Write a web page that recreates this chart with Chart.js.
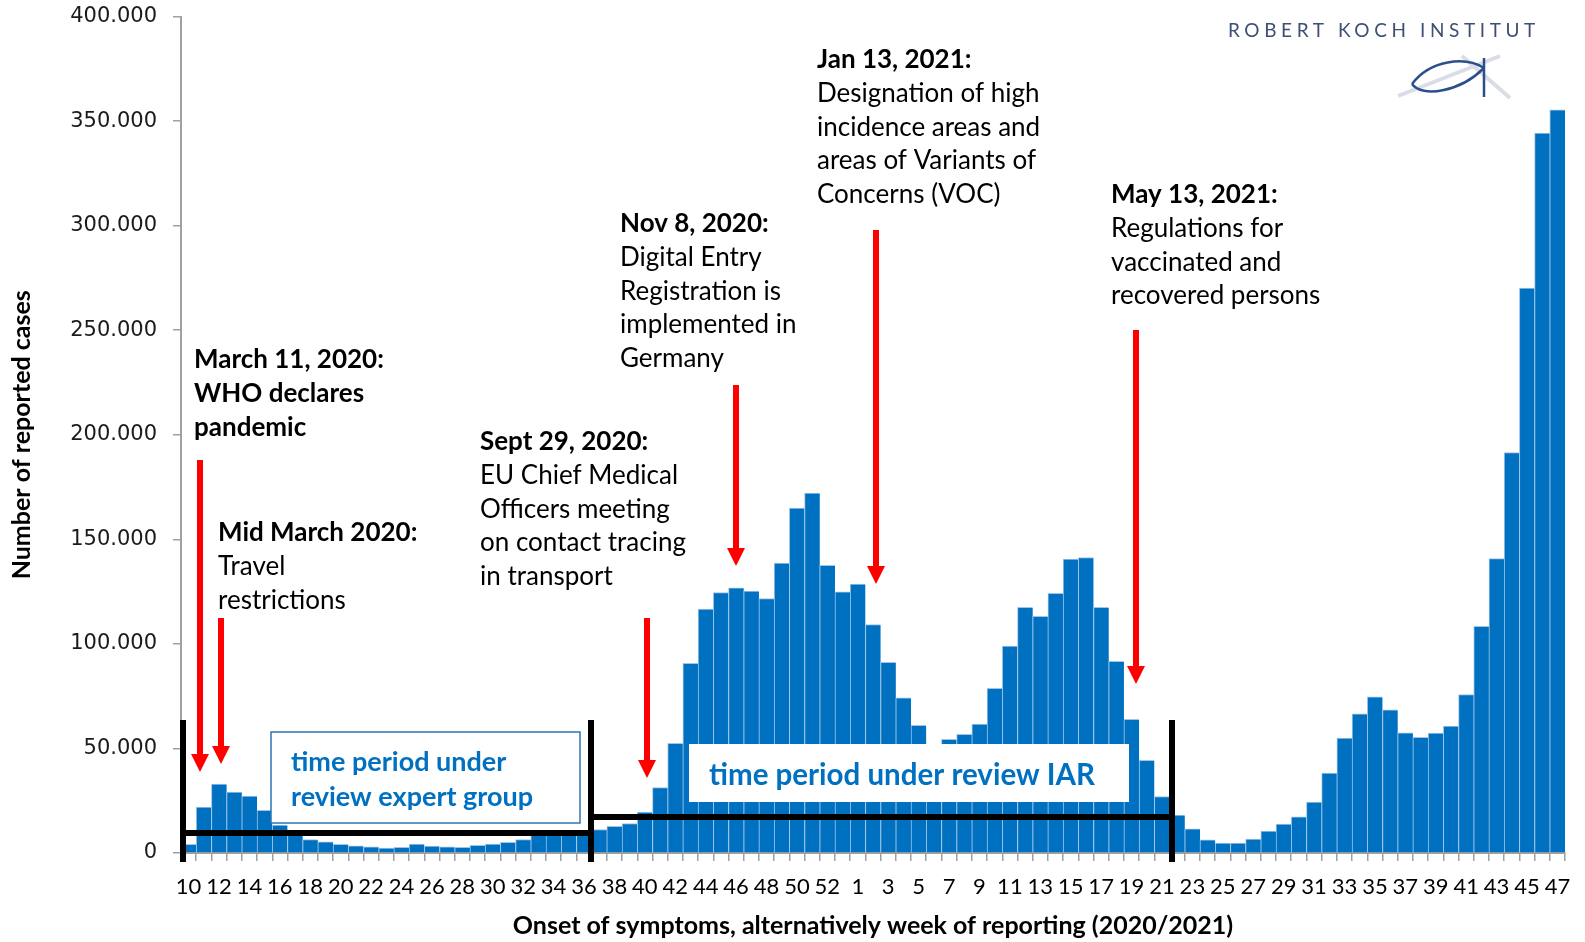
<!DOCTYPE html>
<html>
<head>
<meta charset="utf-8">
<script src="https://cdn.jsdelivr.net/npm/chart.js@4"></script>
<style>
  html, body { margin: 0; padding: 0; background: #fff; }
  canvas { display: block; }
</style>
</head>
<body>
<canvas id="c" width="1585" height="942"></canvas>
<script>
"use strict";

/* weekly case counts, 2020 wk10..53 then 2021 wk1..47 */
const WEEKS_2020 = ["10","11","12","13","14","15","16","17","18","19","20","21","22","23","24","25","26","27","28","29","30","31","32","33","34","35","36","37","38","39","40","41","42","43","44","45","46","47","48","49","50","51","52","53"];
const WEEKS_2021 = ["1","2","3","4","5","6","7","8","9","10","11","12","13","14","15","16","17","18","19","20","21","22","23","24","25","26","27","28","29","30","31","32","33","34","35","36","37","38","39","40","41","42","43","44","45","46","47"];

const CASES_2020 = [4200, 21900, 32900, 29100, 27200, 20400, 13300, 9000, 6400, 5300,
  4200, 3400, 2900, 2300, 2700, 4300, 3300, 2900, 2700, 3700,
  4300, 5100, 6400, 8500, 9000, 9300, 9800, 11200, 12800, 14100,
  19600, 31300, 52400, 90700, 116700, 124500, 126800, 125200, 121700, 138600,
  164900, 172100, 137600, 124900];
const CASES_2021 = [128600, 109200, 91200, 74200, 61000, 50500, 54300, 56700, 61600, 78800,
  99000, 117500, 113200, 124200, 140600, 141300, 117500, 91700, 63900, 44300,
  27000, 18100, 11600, 6300, 4700, 4700, 6700, 10500, 13800, 17300,
  24300, 38200, 54900, 66500, 74700, 68500, 57500, 55300, 57300, 60700,
  75800, 108400, 140800, 191500, 270200, 344300, 355400];

const Y_MAX = 400000;
const Y_STEP = 50000;

const LABELS = WEEKS_2020.concat(WEEKS_2021);
const VALUES = CASES_2020.concat(CASES_2021);

const BLUE = "#0070c0";
const RED = "#ff0000";
const AXIS = "#a0a0a0";
const TXT = "Lato, 'Open Sans', sans-serif";

/* ── annotation layout (pixels) ───────────────────────────────── */
const NOTES = [
  { x: 194, y: 360, lines: [["March 11, 2020:", 1], ["WHO declares", 1], ["pandemic", 1]] },
  { x: 218, y: 533, lines: [["Mid March 2020:", 1], ["Travel", 0], ["restrictions", 0]] },
  { x: 480, y: 442, lines: [["Sept 29, 2020:", 1], ["EU Chief Medical", 0], ["Officers meeting", 0], ["on contact tracing", 0], ["in transport", 0]] },
  { x: 620, y: 224, lines: [["Nov 8, 2020:", 1], ["Digital Entry", 0], ["Registration is", 0], ["implemented in", 0], ["Germany", 0]] },
  { x: 817, y: 60, lines: [["Jan 13, 2021:", 1], ["Designation of high", 0], ["incidence areas and", 0], ["areas of Variants of", 0], ["Concerns (VOC)", 0]] },
  { x: 1111, y: 195, lines: [["May 13, 2021:", 1], ["Regulations for", 0], ["vaccinated and", 0], ["recovered persons", 0]] },
];
const ARROWS = [[200, 460, 772], [221, 618, 764], [647, 618, 778], [736, 385, 566], [876, 230, 584], [1136, 330, 684]];

function fmt(v) { return String(v).replace(/\B(?=(\d{3})+(?!\d))/g, "."); }

function arrow(ctx, x, top, tip) {
  ctx.fillStyle = RED;
  ctx.fillRect(x - 3, top, 6, tip - top - 16);
  ctx.beginPath();
  ctx.moveTo(x - 9, tip - 18);
  ctx.lineTo(x + 9, tip - 18);
  ctx.lineTo(x, tip);
  ctx.closePath();
  ctx.fill();
}

const overlay = {
  id: "overlay",
  afterDatasetsDraw(chart) {
    const ctx = chart.ctx;
    ctx.save();

    // review-period brackets
    ctx.fillStyle = "#000";
    ctx.fillRect(180, 720, 6, 142);
    ctx.fillRect(588, 720, 6, 142);
    ctx.fillRect(1169, 720, 6, 142);
    ctx.fillRect(183, 830, 408, 6);
    ctx.fillRect(591, 814, 580, 6);

    // expert group box
    ctx.fillStyle = "#fff";
    ctx.fillRect(271, 732, 309, 91);
    ctx.strokeStyle = "#2e75b6";
    ctx.lineWidth = 1.5;
    ctx.strokeRect(271, 732, 309, 91);
    // IAR box
    ctx.fillStyle = "#fff";
    ctx.fillRect(689, 744, 440, 58);

    ctx.fillStyle = BLUE;
    ctx.textBaseline = "middle";
    ctx.textAlign = "left";
    ctx.font = "bold 27px " + TXT;
    ctx.fillText("time period under", 291, 762);
    ctx.fillText("review expert group", 291, 797);
    ctx.font = "bold 29.5px " + TXT;
    ctx.fillText("time period under review IAR", 709, 775);

    // event notes
    ctx.fillStyle = "#000";
    for (const n of NOTES) {
      n.lines.forEach(([t, b], i) => {
        ctx.font = (b ? "bold " : "") + "26px " + TXT;
        ctx.fillText(t, n.x, n.y + i * 33.7);
      });
    }
    for (const a of ARROWS) arrow(ctx, a[0], a[1], a[2]);

    // RKI logo
    ctx.fillStyle = "#3d4f73";
    ctx.font = "19px " + TXT;
    ctx.letterSpacing = "4.6px";
    ctx.fillText("ROBERT KOCH INSTITUT", 1228, 31);
    ctx.letterSpacing = "0px";
    ctx.strokeStyle = "rgba(170,180,205,0.45)";
    ctx.lineWidth = 4;
    ctx.beginPath();
    ctx.moveTo(1398, 96); ctx.lineTo(1500, 56);
    ctx.moveTo(1462, 56); ctx.lineTo(1510, 98);
    ctx.stroke();
    ctx.strokeStyle = "#2c4f8c";
    ctx.lineWidth = 2.5;
    ctx.beginPath();
    ctx.moveTo(1412, 84);
    ctx.bezierCurveTo(1430, 60, 1465, 56, 1484, 68);
    ctx.moveTo(1412, 84);
    ctx.bezierCurveTo(1422, 98, 1460, 92, 1484, 68);
    ctx.moveTo(1484, 58); ctx.lineTo(1484, 97);
    ctx.stroke();

    ctx.restore();
  },
};

new Chart(document.getElementById("c"), {
  type: "bar",
  data: {
    labels: LABELS,
    datasets: [{
      data: VALUES,
      backgroundColor: BLUE,
      borderColor: "#9fc5e8",
      borderWidth: { left: 1, top: 1, right: 0, bottom: 0 },
      borderSkipped: "bottom",
      barPercentage: 1,
      categoryPercentage: 1,
    }],
  },
  options: {
    responsive: false,
    animation: false,
    layout: { padding: { top: 1.5, right: 20, left: 0, bottom: 0 } },
    plugins: { legend: { display: false }, tooltip: { enabled: false } },
    scales: {
      x: {
        afterFit: (s) => { s.height = 89; },
        grid: { offset: true, drawOnChartArea: false, tickLength: 8, color: AXIS, lineWidth: 1.5 },
        border: { color: AXIS, width: 2 },
        ticks: {
          autoSkip: false, maxRotation: 0, minRotation: 0, padding: 13, color: "#000",
          font: { family: TXT, size: 22 },
          callback: (v, i) => (i % 2 === 0 ? LABELS[i] : ""),
        },
        title: {
          display: true, text: "Onset of symptoms, alternatively week of reporting (2020/2021)",
          color: "#000", font: { family: TXT, size: 25, weight: "bold" }, padding: { top: 0, bottom: 1 },
        },
      },
      y: {
        min: 0, max: Y_MAX,
        afterFit: (s) => { s.width = 181; },
        grid: { drawOnChartArea: false, tickLength: 8, color: AXIS, lineWidth: 1.5 },
        border: { color: AXIS, width: 2 },
        ticks: {
          stepSize: Y_STEP, padding: 16, color: "#1a1a1a",
          font: { family: "'DejaVu Sans', sans-serif", size: 21, lineHeight: 0.05 },
          callback: (v) => fmt(v),
        },
        title: {
          display: true, text: "Number of reported cases", color: "#000",
          font: { family: TXT, size: 25, weight: "bold" }, padding: { top: 7, bottom: 0 },
        },
      },
    },
  },
  plugins: [overlay],
});
</script>
</body>
</html>
